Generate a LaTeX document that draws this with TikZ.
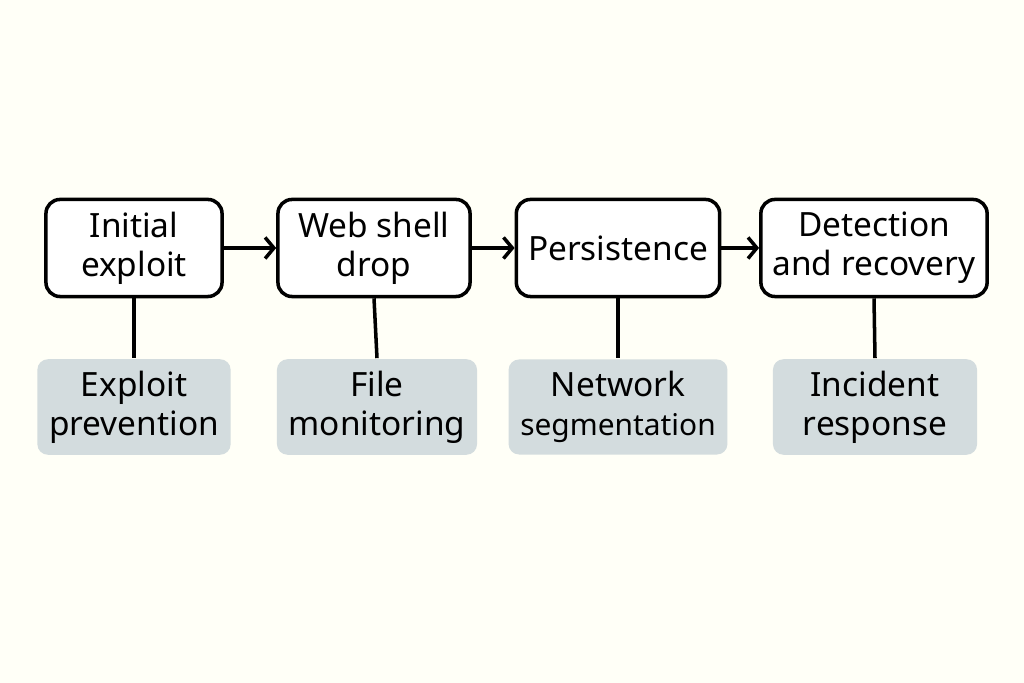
\documentclass[tikz,border=0pt]{standalone}
\usepackage{fontspec}
\setmainfont{Noto Sans}
\usetikzlibrary{arrows.meta,positioning}

\begin{document}
\begin{tikzpicture}[
    x = 0.01cm, y = -0.01cm,
    > = {Straight Barb[length=2.5pt,width=6pt]},
    semithick,
    font = \fontsize{9.5}{11}\selectfont
    ]

    \tikzset{stage/.style={
    draw = black,
    line width = 1pt,
    rounded corners = 4pt,
    fill = white,
    align = center,
    minimum height = 0.97cm
    }}
    \tikzset{defense/.style={
    fill = blue!25!cyan!15!gray!30,
    rounded corners = 3pt,
    align = center,
    minimum height = 0.95cm
    }}
    \fill[white!97!yellow] (0,0) rectangle (1024,683);

    \node[stage,minimum width=1.76cm] (s1) at (134,248) {Initial\\exploit};
    \node[stage,minimum width=1.92cm] (s2) at (374,248) {Web shell\\drop};
    \node[stage,minimum width=1.83cm] (s3) at (618,248) {Persistence};
    \node[stage,minimum width=2.12cm] (s4) at (874,248) {Detection\\and recovery};

    \node[defense,minimum width=1.76cm] (d1) at (134,407) {Exploit\\prevention};
    \node[defense,minimum width=1.80cm] (d2) at (377,407) {File\\monitoring};
    \node[defense,minimum width=1.83cm] (d3) at (618,407) {Network\\{\fontsize{8.5}{11}\selectfont segmentation}};
    \node[defense,minimum width=2.04cm] (d4) at (875,407) {Incident\\response};

    \draw[->,line width=1pt] (s1) -- (s2);
    \draw[->,line width=1pt] (s2) -- (s3);
    \draw[->,line width=1pt] (s3) -- (s4);
    \foreach \i in {1,...,4}
      \draw[line width=1pt] (s\i.south) -- (d\i.north);
\end{tikzpicture}
\end{document}
